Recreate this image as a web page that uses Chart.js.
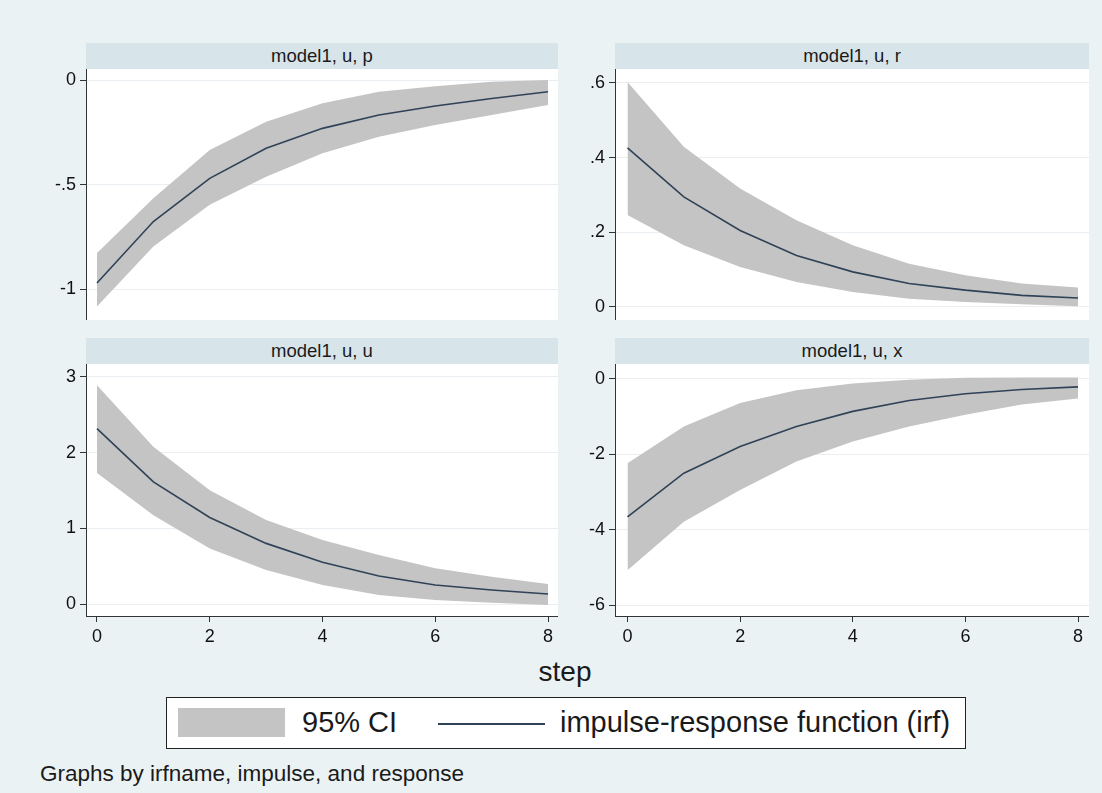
<!DOCTYPE html>
<html>
<head>
<meta charset="utf-8">
<script src="https://cdn.jsdelivr.net/npm/chart.js@4/dist/chart.umd.min.js"></script>
<style>
    body { margin: 0; background: #eaf2f4; font-family: "Liberation Sans", Arial, sans-serif; color: #1a1a1a; }
    #page { position: relative; width: 1102px; height: 793px; overflow: hidden; }
    .strip { position: absolute; height: 26px; background: #d7e4e9; text-align: center; font-size: 18.5px; line-height: 26px; }
    canvas { position: absolute; }
    #xtitle { position: absolute; left: 465px; width: 200px; top: 656px; text-align: center; font-size: 28px; }
    #legend { position: absolute; left: 166px; top: 697px; width: 798px; height: 50px; background: #fff; border: 1.5px solid #222; }
    #legend .swatch { position: absolute; left: 11px; top: 10px; width: 107px; height: 29px; background: #c4c4c4; }
    #legend .line { position: absolute; left: 271px; top: 25px; width: 107px; height: 2px; background: #2f4257; }
    #legend span { position: absolute; top: 7px; font-size: 29px; line-height: 34px; }
    #note { position: absolute; left: 40px; top: 761px; font-size: 22.5px; }
</style>
</head>
<body>
<div id="page">
    <div id="xtitle">step</div>
    <div id="legend">
        <div class="swatch"></div><span style="left:135px">95% CI</span>
        <div class="line"></div><span style="left:393px">impulse-response function (irf)</span>
    </div>
    <div id="note">Graphs by irfname, impulse, and response</div>
</div>
<script>
(function() {
    const steps = [0, 1, 2, 3, 4, 5, 6, 7, 8];

    // model1, u, p
    const irfP = [-0.971, -0.677, -0.470, -0.326, -0.231, -0.167, -0.124, -0.088, -0.056];
    const hiP  = [-0.828, -0.565, -0.334, -0.199, -0.111, -0.056, -0.029, -0.008, 0.000];
    const loP  = [-1.083, -0.796, -0.597, -0.462, -0.350, -0.271, -0.215, -0.167, -0.119];
    const ticksP = [-1, -0.5, 0];

    // model1, u, r
    const irfR = [0.426, 0.295, 0.205, 0.138, 0.094, 0.063, 0.045, 0.031, 0.024];
    const hiR  = [0.603, 0.429, 0.317, 0.232, 0.165, 0.116, 0.085, 0.063, 0.052];
    const loR  = [0.246, 0.165, 0.107, 0.067, 0.040, 0.022, 0.013, 0.007, 0.002];
    const ticksR = [0, 0.2, 0.4, 0.6];

    // model1, u, u
    const irfU = [2.316, 1.614, 1.145, 0.803, 0.553, 0.373, 0.254, 0.189, 0.136];
    const hiU  = [2.886, 2.075, 1.504, 1.110, 0.846, 0.649, 0.474, 0.364, 0.268];
    const loU  = [1.732, 1.175, 0.737, 0.452, 0.254, 0.123, 0.057, 0.022, -0.009];
    const ticksU = [0, 1, 2, 3];

    // model1, u, x
    const irfX = [-3.66, -2.50, -1.79, -1.26, -0.86, -0.57, -0.39, -0.28, -0.21];
    const hiX  = [-2.24, -1.26, -0.64, -0.30, -0.12, -0.02, 0.03, 0.04, 0.04];
    const loX  = [-5.08, -3.79, -2.95, -2.19, -1.66, -1.26, -0.95, -0.68, -0.52];
    const ticksX = [-6, -4, -2, 0];

    const xTicks = [0, 2, 4, 6, 8];

    const page = document.getElementById('page');
    const font = { family: '"Liberation Sans", Arial, sans-serif', size: 18 };
    const lineColor = '#2f4257';
    const bandColor = '#c4c4c4';

    const stataLabel = v => String(Math.round(v * 1000) / 1000).replace(/^(-?)0\./, '$1.');
    const pts = vals => steps.map((s, i) => ({ x: s, y: vals[i] }));

    const whiteArea = {
        id: 'whiteArea',
        beforeDraw(chart) {
            const a = chart.chartArea;
            chart.ctx.save();
            chart.ctx.fillStyle = '#fff';
            chart.ctx.fillRect(a.left, a.top, a.right - a.left, a.bottom - a.top);
            chart.ctx.restore();
        }
    };

    function panel(p) {
        const strip = document.createElement('div');
        strip.className = 'strip';
        strip.textContent = p.title;
        strip.style.left = (p.left + 56) + 'px';
        strip.style.top = (p.top - 26) + 'px';
        strip.style.width = (p.width - 56) + 'px';
        page.appendChild(strip);

        const canvas = document.createElement('canvas');
        const xh = p.showX ? 40 : 0;
        const h = p.plotH + xh;
        canvas.width = p.width;
        canvas.height = h;
        canvas.style.left = p.left + 'px';
        canvas.style.top = p.top + 'px';
        canvas.style.width = p.width + 'px';
        canvas.style.height = h + 'px';
        page.appendChild(canvas);

        new Chart(canvas.getContext('2d'), {
            type: 'line',
            data: {
                datasets: [
                    { data: pts(p.irf), borderColor: lineColor, borderWidth: 1.6, pointRadius: 0, fill: false },
                    { data: pts(p.hi), borderWidth: 0, borderColor: bandColor, backgroundColor: bandColor, pointRadius: 0, fill: '+1' },
                    { data: pts(p.lo), borderWidth: 0, borderColor: bandColor, pointRadius: 0, fill: false }
                ]
            },
            options: {
                responsive: false,
                animation: false,
                layout: { padding: 0 },
                plugins: { legend: { display: false }, tooltip: { enabled: false } },
                scales: {
                    x: {
                        type: 'linear',
                        display: p.showX,
                        min: p.xMin,
                        max: p.xMax,
                        afterBuildTicks: s => { s.ticks = xTicks.map(v => ({ value: v })); },
                        afterFit: s => { s.height = xh; s.paddingLeft = 0; s.paddingRight = 0; },
                        grid: { drawOnChartArea: false, color: '#333', tickColor: '#333', tickLength: 6 },
                        border: { color: '#333', width: 1 },
                        ticks: { font, color: '#111', padding: 4, maxRotation: 0, callback: stataLabel }
                    },
                    y: {
                        min: p.yMin,
                        max: p.yMax,
                        afterBuildTicks: s => { s.ticks = p.ticks.map(v => ({ value: v })); },
                        afterFit: s => { s.width = 56; s.paddingTop = 0; s.paddingBottom = 0; },
                        grid: { color: '#e9eff2', tickColor: '#333', tickLength: 6 },
                        border: { color: '#333', width: 1 },
                        ticks: { font, color: '#111', padding: 4, callback: stataLabel }
                    }
                }
            },
            plugins: [whiteArea]
        });
    }

    panel({ title: 'model1, u, p', left: 30, top: 69, width: 528, plotH: 251, showX: false,
            irf: irfP, hi: hiP, lo: loP, ticks: ticksP, yMin: -1.148, yMax: 0.053, xMin: -0.195, xMax: 8.177 });
    panel({ title: 'model1, u, r', left: 559, top: 69, width: 530, plotH: 251, showX: false,
            irf: irfR, hi: hiR, lo: loR, ticks: ticksR, yMin: -0.035, yMax: 0.6375, xMin: -0.222, xMax: 8.195 });
    panel({ title: 'model1, u, u', left: 30, top: 364, width: 528, plotH: 252, showX: true,
            irf: irfU, hi: hiU, lo: loU, ticks: ticksU, yMin: -0.154, yMax: 3.167, xMin: -0.195, xMax: 8.177 });
    panel({ title: 'model1, u, x', left: 559, top: 364, width: 530, plotH: 252, showX: true,
            irf: irfX, hi: hiX, lo: loX, ticks: ticksX, yMin: -6.292, yMax: 0.398, xMin: -0.222, xMax: 8.195 });
})();
</script>
</body>
</html>
